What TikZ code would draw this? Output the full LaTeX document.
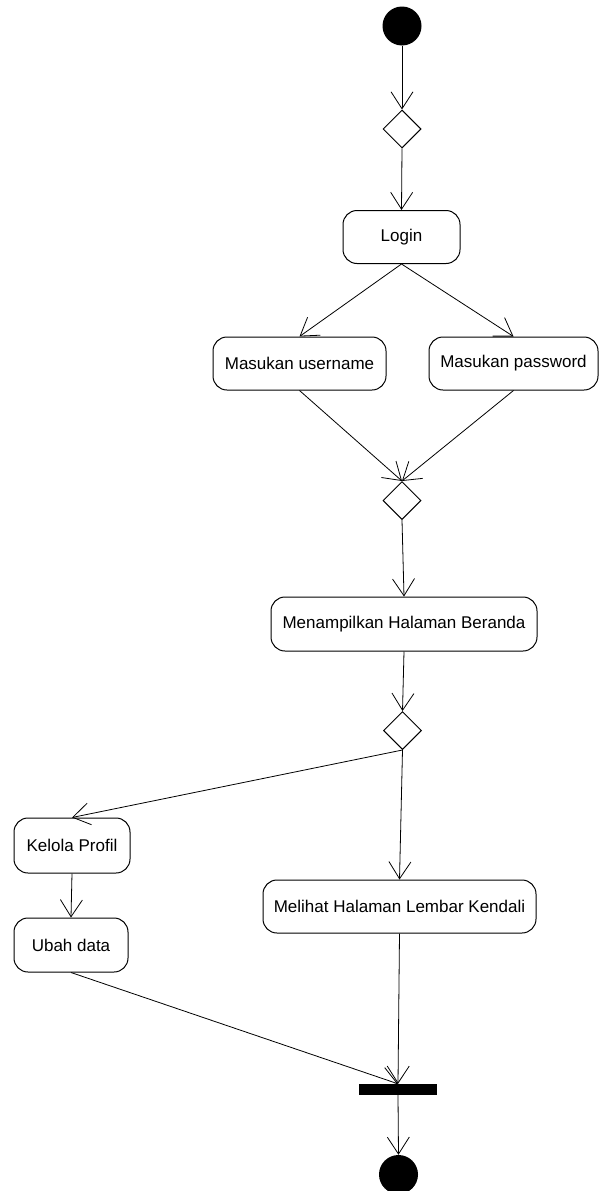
\documentclass[tikz,border=0pt]{standalone}
\usepackage{fontspec}
\setmainfont{Liberation Sans}
\usetikzlibrary{arrows.meta,shapes.geometric}
\tikzset{
  activity/.style={draw, line width=1pt, rounded corners=14pt, minimum height=53pt,
    inner sep=0pt, font=\fontsize{17}{20}\selectfont},
  decision/.style={draw, line width=1pt, diamond, minimum size=38pt, inner sep=0pt},
  startstate/.style={circle, fill=black, minimum size=39pt, inner sep=0pt},
  syncbar/.style={fill=black, minimum width=78pt, minimum height=11pt, inner sep=0pt},
  flow/.style={line width=0.8pt, -{Straight Barb[length=17pt,width=22pt,line width=0.8pt]}},
}
\begin{document}
\begin{tikzpicture}[x=1pt,y=-1pt]
\useasboundingbox (0,0) rectangle (603,1191);
\node[startstate] (start) at (402,26) {};
\node[decision] (d1) at (402,129) {};
\node[activity, minimum width=117pt] (login) at (401.5,237) {Login};
\node[activity, minimum width=173pt] (user) at (299.5,363.5) {Masukan username};
\node[activity, minimum width=169pt] (pass) at (513.5,363.5) {Masukan password};
\node[decision] (d2) at (402,500.5) {};
\node[activity, minimum width=266pt, minimum height=54pt] (beranda) at (404,624) {Menampilkan Halaman Beranda};
\node[decision] (d3) at (402.5,730.5) {};
\node[activity, minimum width=116pt, minimum height=55pt] (kelola) at (72,845.5) {Kelola Profil};
\node[activity, minimum width=114pt, minimum height=54pt] (ubah) at (71,945) {Ubah data};
\node[activity, minimum width=273pt] (lembar) at (399.5,906.5) {Melihat Halaman Lembar Kendali};
\node[syncbar] (bar) at (398,1089.5) {};
\node[startstate] (end) at (398.5,1174.5) {};

\draw[flow] (start) -- (d1.north);
\draw[flow] (d1.south) -- (login.north);
\draw[flow] (login.south) -- (user.north);
\draw[flow] (login.south) -- (pass.north);
\draw[flow] (user.south) -- (d2.north);
\draw[flow] (pass.south) -- (d2.north);
\draw[flow] (d2.south) -- (beranda.north);
\draw[flow] (beranda.south) -- (d3.north);
\draw[flow] (d3.south) -- (kelola.north);
\draw[flow] (d3.south) -- (lembar.north);
\draw[flow] (kelola.south) -- (ubah.north);
\draw[flow] (ubah.south) -- (bar.north);
\draw[flow] (lembar.south) -- (bar.north);
\draw[flow] (bar.south) -- (end.north);
\end{tikzpicture}
\end{document}
